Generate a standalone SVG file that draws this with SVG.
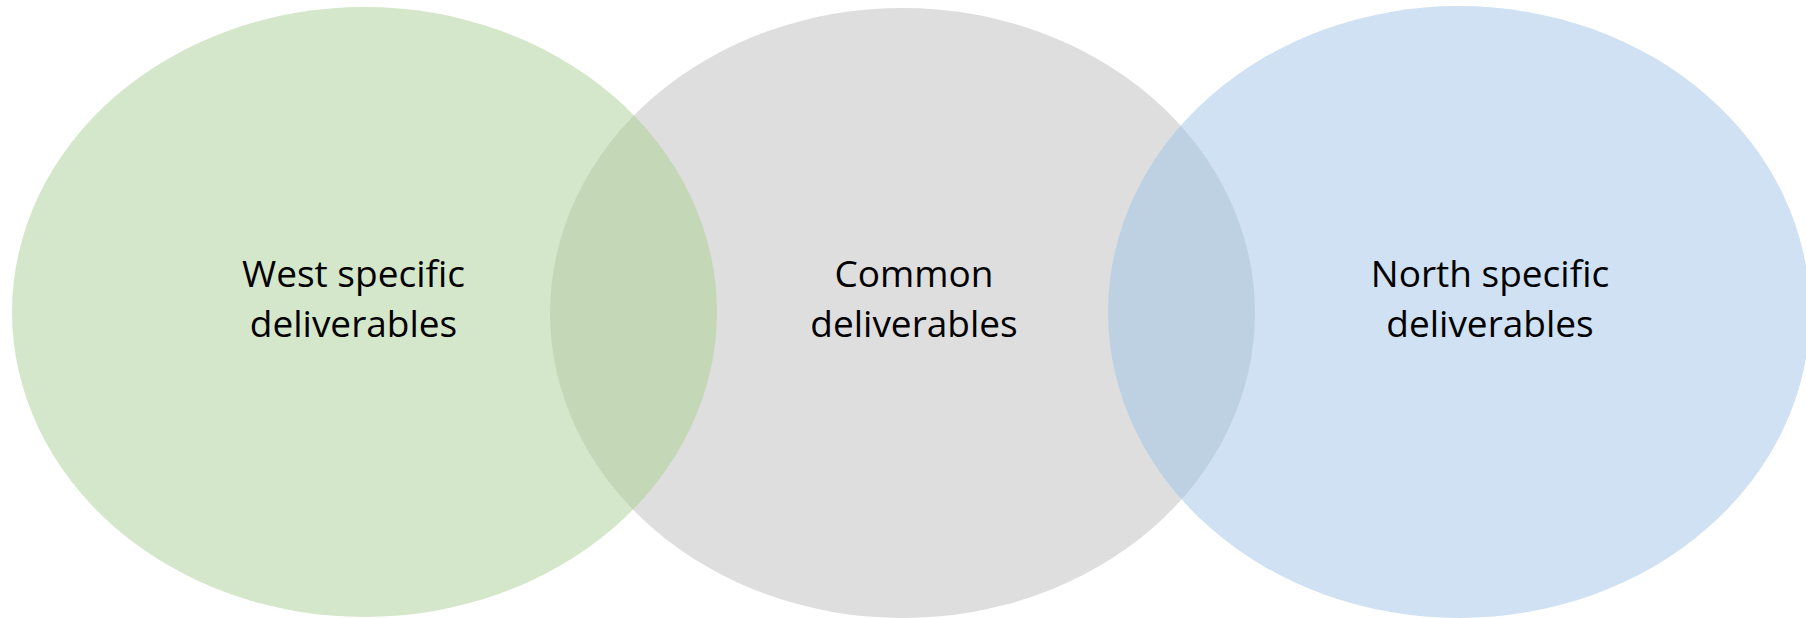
<svg xmlns="http://www.w3.org/2000/svg" width="1806" height="618" viewBox="0 0 1806 618">
  <style>
    .lbl { font-family: "Open Sans", "Liberation Sans", Arial, sans-serif; font-size: 37px; fill: #000; text-anchor: middle; }
  </style>
  <defs>
    <clipPath id="clipL"><ellipse cx="364.5" cy="312" rx="352.5" ry="305"/></clipPath>
    <clipPath id="clipR"><ellipse cx="1459" cy="312" rx="351" ry="306"/></clipPath>
  </defs>
  <rect width="1806" height="618" fill="#ffffff"/>
  <g id="node-west">
    <ellipse cx="364.5" cy="312" rx="352.5" ry="305" fill="#D5E7CA"/>
  </g>
  <g id="node-common">
    <ellipse cx="902.5" cy="313" rx="352.5" ry="305" fill="#DEDEDE"/>
  </g>
  <g id="node-north">
    <ellipse cx="1459" cy="312" rx="351" ry="306" fill="#CFE1F2"/>
  </g>
  <g id="overlaps">
    <ellipse cx="902.5" cy="313" rx="352.5" ry="305" fill="#C4D8B7" clip-path="url(#clipL)"/>
    <ellipse cx="902.5" cy="313" rx="352.5" ry="305" fill="#BED1E2" clip-path="url(#clipR)"/>
  </g>
  <g id="labels">
    <text class="lbl" x="353.5" y="287">West specific</text>
    <text class="lbl" x="353.5" y="337">deliverables</text>
    <text class="lbl" x="914" y="287">Common</text>
    <text class="lbl" x="914" y="337">deliverables</text>
    <text class="lbl" x="1490" y="287">North specific</text>
    <text class="lbl" x="1490" y="337">deliverables</text>
  </g>
  <g id="connectors"/>
</svg>
